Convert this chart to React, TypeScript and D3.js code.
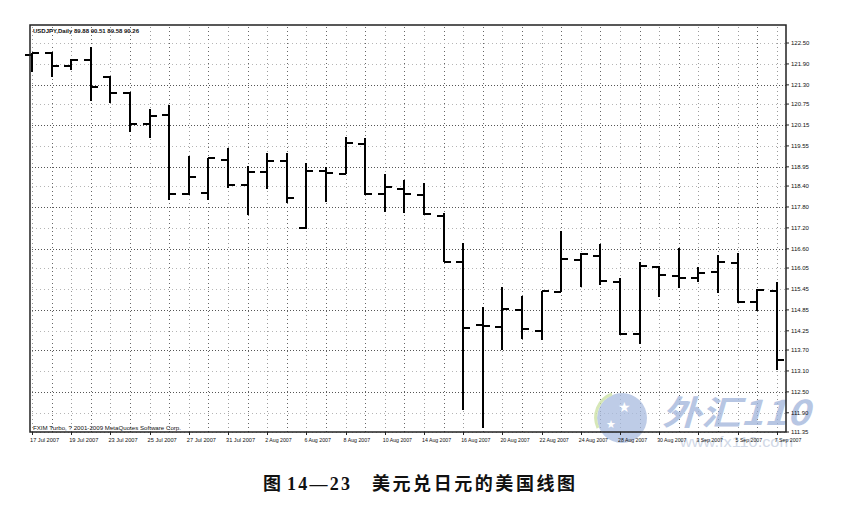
import * as d3 from "d3";
import React from "react";

// trading days 17 Jul 2007 .. 7 Sep 2007
const barDates = [
  "17 Jul 2007", "18 Jul 2007", "19 Jul 2007", "20 Jul 2007", "23 Jul 2007",
  "24 Jul 2007", "25 Jul 2007", "26 Jul 2007", "27 Jul 2007", "30 Jul 2007",
  "31 Jul 2007", "1 Aug 2007", "2 Aug 2007", "3 Aug 2007", "6 Aug 2007",
  "7 Aug 2007", "8 Aug 2007", "9 Aug 2007", "10 Aug 2007", "13 Aug 2007",
  "14 Aug 2007", "15 Aug 2007", "16 Aug 2007", "17 Aug 2007", "20 Aug 2007",
  "21 Aug 2007", "22 Aug 2007", "23 Aug 2007", "24 Aug 2007", "27 Aug 2007",
  "28 Aug 2007", "29 Aug 2007", "30 Aug 2007", "31 Aug 2007", "3 Sep 2007",
  "4 Sep 2007", "5 Sep 2007", "6 Sep 2007", "7 Sep 2007",
];

const openPrices = [
  122.16, 122.2, 121.85, 122.01, 121.53, 121.08, 120.18, 120.44, 118.17, 118.19,
  119.15, 118.44, 118.81, 119.13, 117.2, 118.84, 118.75, 119.61, 118.17, 118.31,
  118.14, 117.54, 116.23, 114.42, 114.37, 114.85, 114.25, 115.37, 116.29, 116.39,
  115.66, 114.15, 116.07, 115.83, 115.77, 115.94, 116.19, 115.08, 115.4,
];
const highPrices = [
  122.21, 122.25, 122.03, 122.38, 121.55, 121.1, 120.6, 120.72, 119.26, 119.21,
  119.5, 118.98, 119.36, 119.34, 119.05, 118.95, 119.81, 119.77, 118.75, 118.57,
  118.48, 117.62, 116.76, 114.92, 115.5, 115.25, 115.4, 117.11, 116.47, 116.74,
  115.76, 116.23, 116.1, 116.62, 116.09, 116.42, 116.47, 115.44, 115.66,
];
const lowPrices = [
  121.68, 121.53, 121.73, 120.84, 120.77, 119.96, 119.77, 118.0, 118.14, 118.0,
  118.35, 117.57, 118.32, 117.92, 117.17, 117.95, 118.75, 118.14, 117.66, 117.64,
  117.57, 116.22, 111.98, 111.47, 113.7, 114.01, 113.99, 115.37, 115.52, 115.56,
  114.13, 113.87, 115.23, 115.49, 115.64, 115.33, 115.04, 114.83, 113.13,
];
const closePrices = [
  122.21, 121.85, 122.01, 121.25, 121.08, 120.18, 120.42, 118.17, 118.65, 119.2,
  118.43, 118.81, 119.13, 118.05, 118.84, 118.78, 119.63, 118.17, 118.38, 118.17,
  117.59, 116.23, 114.34, 114.39, 114.87, 114.29, 115.39, 116.32, 116.44, 115.68,
  114.16, 116.12, 115.85, 115.77, 115.92, 116.21, 115.08, 115.42, 113.41,
];

const priceLabels = [
  "122.50", "121.90", "121.30", "120.75", "120.15", "119.55", "118.95", "118.40",
  "117.80", "117.20", "116.60", "116.05", "115.45", "114.85", "114.25", "113.70",
  "113.10", "112.50", "111.90", "111.35",
];
// horizontal grid rows that print darker in the scan
const strongRows = ["121.30", "120.15", "118.95", "117.80", "116.60", "114.85", "113.70", "112.50"];

const headerText = "USDJPY,Daily  89.88 90.51 89.58 90.26";
const footerText = "FXIM Turbo, ? 2001-2009 MetaQuotes Software Corp.";

const W = 859;
const H = 513;
const frame = { left: 30, right: 786, top: 25, bottom: 432 };
const labelFont = "'Liberation Sans', Arial, sans-serif";
const cjkFont = "'Noto Sans CJK SC', sans-serif";

const App: React.FC = () => {
  const n = barDates.length;
  const x = d3.scaleLinear().domain([0, n - 1]).range([32, 776.8]);
  const y = d3
    .scaleLinear()
    .domain([+priceLabels[priceLabels.length - 1], +priceLabels[0]])
    .range([432, 43]);

  const bars = d3.range(n).map((i) => ({
    date: barDates[i],
    o: openPrices[i],
    h: highPrices[i],
    l: lowPrices[i],
    c: closePrices[i],
  }));

  const tick = 7;

  return (
    <svg
      width={W}
      height={H}
      style={{ position: "absolute", left: 0, top: 0, background: "#fff" }}
    >
      <rect x={0} y={0} width={W} height={H} fill="#fff" />

      {/* dotted grid: one column per bar, one row per price label */}
      <g shapeRendering="crispEdges">
        {bars.map((b, i) => (
          <line
            key={"vg" + i}
            x1={Math.round(x(i)) + 0.5}
            x2={Math.round(x(i)) + 0.5}
            y1={frame.top + 2}
            y2={frame.bottom}
            stroke={i % 2 === 1 ? "#666" : "#9a9a9a"}
            strokeWidth={1}
            strokeDasharray="1,3"
          />
        ))}
        {priceLabels.map((p) => (
          <line
            key={"hg" + p}
            x1={frame.left + 2}
            x2={frame.right}
            y1={Math.round(y(+p)) + 0.5}
            y2={Math.round(y(+p)) + 0.5}
            stroke={strongRows.includes(p) ? "#555" : "#b5b5b5"}
            strokeWidth={1}
            strokeDasharray={strongRows.includes(p) ? "1,2" : "1,3"}
          />
        ))}
      </g>

      {/* watermark */}
      <g opacity={0.75}>
        <circle cx={622} cy={418} r={25} fill="#a9bcdf" />
        <path d="M598,428 A25,25 0 0 1 612,394" fill="none" stroke="#c9e0a0" strokeWidth={3} />
        <text x={618} y={412} fontSize={14} fill="#fff" fontFamily={labelFont}>★</text>
        <text x={606} y={428} fontSize={11} fill="#fff" fontFamily={labelFont}>★</text>
        <text
          x={662}
          y={425}
          fontSize={34}
          fontStyle="italic"
          fontWeight="bold"
          fill="#9fb3da"
          fontFamily={cjkFont}
          textLength={148}
          lengthAdjust="spacingAndGlyphs"
        >
          外汇110
        </text>
        <text
          x={680}
          y={447}
          fontSize={15}
          fill="#c3cde0"
          fontFamily={labelFont}
          textLength={113}
          lengthAdjust="spacingAndGlyphs"
        >
          www.fx110.com
        </text>
      </g>

      {/* OHLC bars */}
      <g stroke="#000" strokeWidth={2} shapeRendering="crispEdges">
        {bars.map((b, i) => {
          const cx = Math.round(x(i));
          return (
            <g key={"b" + i}>
              <line x1={cx} x2={cx} y1={y(b.h)} y2={y(b.l)} />
              <line x1={cx - tick} x2={cx} y1={y(b.o)} y2={y(b.o)} />
              <line x1={cx} x2={cx + tick} y1={y(b.c)} y2={y(b.c)} />
            </g>
          );
        })}
      </g>

      {/* frame */}
      <rect
        x={frame.left}
        y={frame.top}
        width={frame.right - frame.left}
        height={frame.bottom - frame.top}
        fill="none"
        stroke="#222"
        strokeWidth={1.5}
      />

      {/* right price axis */}
      <g fontFamily={labelFont} fontSize={6} fill="#111">
        {priceLabels.map((p) => (
          <g key={"pl" + p}>
            <line
              x1={frame.right}
              x2={frame.right + 3}
              y1={y(+p)}
              y2={y(+p)}
              stroke="#222"
              strokeWidth={1}
            />
            <text x={frame.right + 5} y={y(+p) + 2.2}>
              {p}
            </text>
          </g>
        ))}
      </g>

      {/* date axis, every second bar */}
      <g fontFamily={labelFont} fontSize={5.8} fill="#111">
        {bars
          .filter((_, i) => i % 2 === 0)
          .map((b, k) => {
            const i = k * 2;
            return (
              <g key={"dl" + i}>
                <line
                  x1={Math.round(x(i)) + 0.5}
                  x2={Math.round(x(i)) + 0.5}
                  y1={frame.bottom}
                  y2={frame.bottom + 3}
                  stroke="#222"
                  strokeWidth={1}
                />
                <text
                  x={x(i) - 2}
                  y={frame.bottom + 10}
                  textLength={b.date.length * 2.65}
                  lengthAdjust="spacingAndGlyphs"
                >
                  {b.date}
                </text>
              </g>
            );
          })}
      </g>

      <text
        x={33}
        y={33}
        fontFamily={labelFont}
        fontSize={6}
        fontWeight="bold"
        fill="#111"
        textLength={106}
        lengthAdjust="spacingAndGlyphs"
      >
        {headerText}
      </text>
      <text
        x={33}
        y={430}
        fontFamily={labelFont}
        fontSize={6.2}
        fill="#111"
        textLength={148}
        lengthAdjust="spacingAndGlyphs"
      >
        {footerText}
      </text>

      {/* caption */}
      <g fontSize={18} fontWeight="bold" fill="#111">
        <text x={263} y={490} fontFamily={cjkFont}>
          图
        </text>
        <text
          x={287}
          y={490}
          fontFamily="'Liberation Serif', serif"
          textLength={63}
          lengthAdjust="spacing"
        >
          14—23
        </text>
        <text
          x={372}
          y={490}
          fontFamily={cjkFont}
          textLength={203}
          lengthAdjust="spacing"
        >
          美元兑日元的美国线图
        </text>
      </g>
    </svg>
  );
};

export default App;
